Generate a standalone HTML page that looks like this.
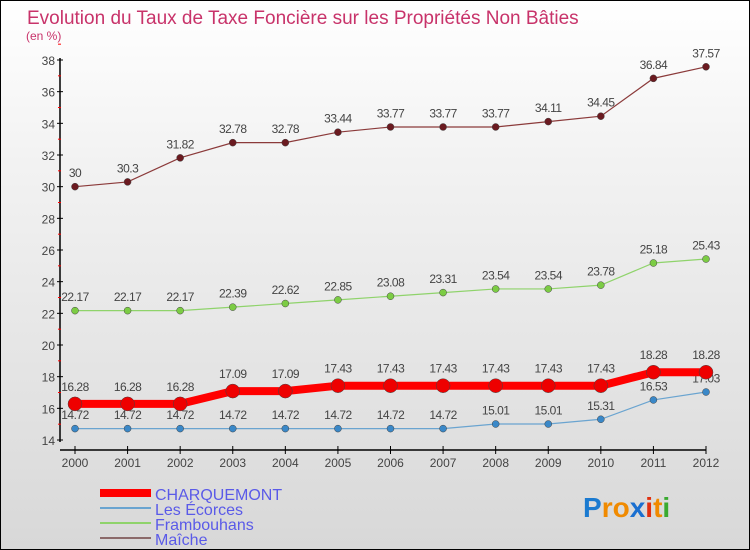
<!DOCTYPE html>
<html><head><meta charset="utf-8"><style>
body{margin:0}
#c{width:750px;height:550px;position:relative;box-sizing:border-box;border:1px solid #000;background:linear-gradient(#fff,#f2f2f2 30%,#d8d8d8);overflow:hidden;font-family:"Liberation Sans",sans-serif}
</style></head><body>
<div id="c">
<svg id="s" width="750" height="550" style="position:absolute;left:-1px;top:-1px"></svg>
</div>
<script>
const years=["2000","2001","2002","2003","2004","2005","2006","2007","2008","2009","2010","2011","2012"];
const charquemont=[16.28,16.28,16.28,17.09,17.09,17.43,17.43,17.43,17.43,17.43,17.43,18.28,18.28];
const ecorces=[14.72,14.72,14.72,14.72,14.72,14.72,14.72,14.72,15.01,15.01,15.31,16.53,17.03];
const frambouhans=[22.17,22.17,22.17,22.39,22.62,22.85,23.08,23.31,23.54,23.54,23.78,25.18,25.43];
const maiche=[30,30.3,31.82,32.78,32.78,33.44,33.77,33.77,33.77,34.11,34.45,36.84,37.57];
const yTicks=[14,16,18,20,22,24,26,28,30,32,34,36,38];
const s=document.getElementById('s');const NS='http://www.w3.org/2000/svg';
function el(t,a,p){const e=document.createElementNS(NS,t);for(const k in a)e.setAttribute(k,a[k]);(p||s).appendChild(e);return e;}
const X=i=>75+i*(706-75)/(years.length-1);
const Y=v=>440-(v-14)*(380/24);
let t=el('text',{x:27,y:24,fill:'#c8336a','font-size':19});t.textContent='Evolution du Taux de Taxe Foncière sur les Propriétés Non Bâties';

t=el('text',{x:26,y:40,fill:'#c8336a','font-size':12});t.textContent='(en %)';

let g=el('g',{});
el('line',{x1:60,y1:58,x2:60,y2:442,stroke:'#000','stroke-width':1.5},g);
yTicks.forEach(v=>{el('line',{x1:57,y1:Y(v),x2:63,y2:Y(v),stroke:'#000'},g);
el('line',{x1:58,y1:Y(v+1),x2:61,y2:Y(v+1),stroke:'#f00'},g);
const tx=el('text',{x:55,y:Y(v)+5,'text-anchor':'end','font-size':12,fill:'#444'},g);tx.textContent=v;});
g=el('g',{});
el('line',{x1:60,y1:450,x2:706,y2:450,stroke:'#000','stroke-width':1.5},g);
years.forEach((y,i)=>{el('line',{x1:X(i),y1:446,x2:X(i),y2:454,stroke:'#000'},g);
const tx=el('text',{x:X(i),y:467,'text-anchor':'middle','font-size':12,fill:'#444'},g);tx.textContent=y;});
function series(d,col,w,r,name,fillc){
const gg=el('g',{});
el('polyline',{points:d.map((v,i)=>X(i)+','+Y(v)).join(' '),fill:'none',stroke:col,'stroke-width':w},gg);
d.forEach((v,i)=>{const c=el('circle',{cx:X(i),cy:Y(v),r:r,fill:fillc,stroke:'#444','stroke-width':0.5},gg);

const tx=el('text',{x:X(i),y:Y(v)-(r+6),'text-anchor':'middle','font-size':12,fill:'#444','letter-spacing':'-0.5'},gg);tx.textContent=v;});}
series(maiche,'#8b3a3a',1.2,3.5,'maiche','#6b1a20');
series(frambouhans,'#8fd36b',1.2,3.5,'frambouhans','#7ccc44');
series(ecorces,'#6aa4d0',1.2,3.5,'les-ecorces','#3a88c8');
series(charquemont,'#f00',8,7,'charquemont','#e00');
const leg=[['CHARQUEMONT','#f00',8],['Les Écorces','#6aa4d0',2],['Frambouhans','#8fd36b',2],['Maîche','#8b6a6a',2]];
leg.forEach((l,i)=>{const gg=el('g',{});
const y=493+i*15;el('line',{x1:100,y1:y,x2:151,y2:y,stroke:l[1],'stroke-width':l[2]},gg);
const tx=el('text',{x:155,y:y+7,'font-size':16,fill:'#5a5ae8'},gg);tx.textContent=l[0];});
const lg=el('text',{x:583,y:517,'font-size':28,'font-weight':'bold'});
[['P','#1a7ad0'],['r','#f08a00'],['o','#f08a00'],['x','#1a6fd0'],['i','#e03010'],['t','#f08a00'],['i','#3aaa30']].forEach(p=>{const ts=el('tspan',{fill:p[1]},lg);ts.textContent=p[0];});
</script>
</body></html>
